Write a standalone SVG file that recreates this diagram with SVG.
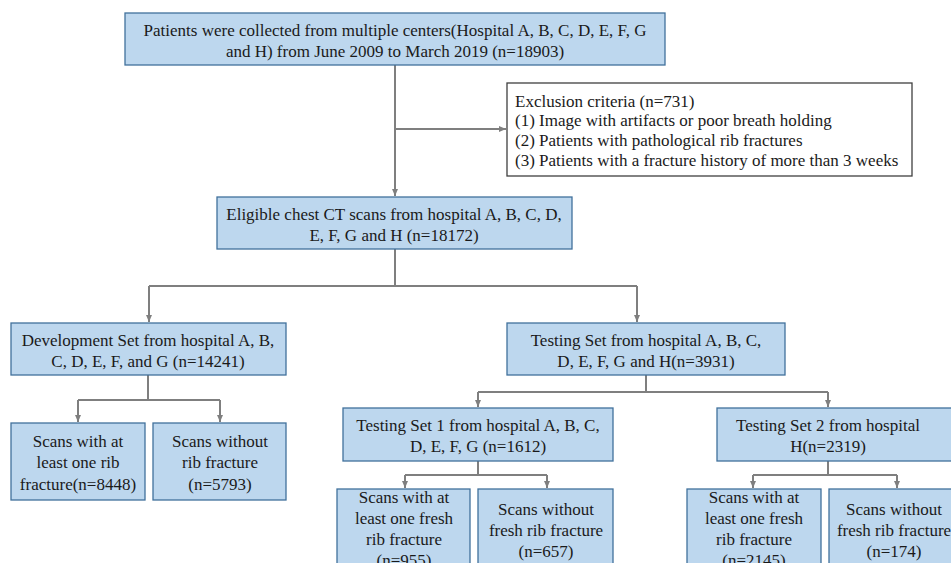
<svg xmlns="http://www.w3.org/2000/svg" width="951" height="563" viewBox="0 0 951 563" font-family="'Liberation Serif', 'Times New Roman', Times, serif" font-size="17">
<defs>
<marker id="ah" markerWidth="8" markerHeight="8" refX="7" refY="4" orient="auto" markerUnits="userSpaceOnUse">
<path d="M0,1 L7,4 L0,7 Z" fill="#7f7f7f"/>
</marker>
<style>
.box{fill:#bdd7ee;stroke:#41719c;stroke-width:1.3}
.wbox{fill:#ffffff;stroke:#3f3f3f;stroke-width:1.3}
text{font-family:'Liberation Serif','Times New Roman',Times,serif;font-size:17px;fill:#1a1a1a}
.c{text-anchor:middle}
.ln{fill:none;stroke:#7f7f7f;stroke-width:2}
.ar{marker-end:url(#ah)}
</style>
</defs>
<rect width="951" height="563" fill="#ffffff"/>
<g id="connectors">
<path class="ln ar" d="M395,65 V196"/>
<path class="ln ar" d="M395,129 H506"/>
<path class="ln" d="M395,249 V286 M149,286 H637"/>
<path class="ln ar" d="M149,286 V322"/>
<path class="ln ar" d="M637,286 V322"/>
<path class="ln" d="M148,375 V400 M78,400 H220"/>
<path class="ln ar" d="M78,400 V422"/>
<path class="ln ar" d="M220,400 V422"/>
<path class="ln" d="M646,375 V392 M478,392 H828"/>
<path class="ln ar" d="M478,392 V407"/>
<path class="ln ar" d="M828,392 V407"/>
<path class="ln" d="M478,461 V475 M405,475 H547"/>
<path class="ln ar" d="M405,475 V488"/>
<path class="ln ar" d="M547,475 V488"/>
<path class="ln" d="M828,461 V475 M753,475 H897"/>
<path class="ln ar" d="M753,475 V488"/>
<path class="ln ar" d="M897,475 V488"/>
</g>
<g id="n_top">
<rect class="box" x="125" y="13" width="540" height="52"/>
<text class="c" x="395" y="36">Patients were collected from multiple centers(Hospital A, B, C, D, E, F, G</text>
<text class="c" x="395" y="57">and H) from June 2009 to March 2019 (n=18903)</text>
</g>
<g id="n_excl">
<rect class="wbox" x="507" y="83" width="405" height="93"/>
<text x="515" y="107">Exclusion criteria (n=731)</text>
<text x="515" y="126">(1) Image with artifacts or poor breath holding</text>
<text x="515" y="146">(2) Patients with pathological rib fractures</text>
<text x="515" y="166">(3) Patients with a fracture history of more than 3 weeks</text>
</g>
<g id="n_elig">
<rect class="box" x="217" y="197" width="355" height="52"/>
<text class="c" x="394" y="220">Eligible chest CT scans from hospital A, B, C, D,</text>
<text class="c" x="394" y="241">E, F, G and H (n=18172)</text>
</g>
<g id="n_dev">
<rect class="box" x="11" y="323" width="275" height="52"/>
<text class="c" x="148" y="346">Development Set from hospital A, B,</text>
<text class="c" x="148" y="367">C, D, E, F, and G (n=14241)</text>
</g>
<g id="n_dev_pos">
<rect class="box" x="11" y="423" width="134" height="77"/>
<text class="c" x="78" y="447">Scans with at</text>
<text class="c" x="78" y="468">least one rib</text>
<text class="c" x="78" y="490">fracture(n=8448)</text>
</g>
<g id="n_dev_neg">
<rect class="box" x="153" y="423" width="133" height="77"/>
<text class="c" x="220" y="447">Scans without</text>
<text class="c" x="220" y="468">rib fracture</text>
<text class="c" x="220" y="490">(n=5793)</text>
</g>
<g id="n_test">
<rect class="box" x="507" y="323" width="278" height="52"/>
<text class="c" x="646" y="346">Testing Set from hospital A, B, C,</text>
<text class="c" x="646" y="367">D, E, F, G and H(n=3931)</text>
</g>
<g id="n_ts1">
<rect class="box" x="343" y="408" width="270" height="53"/>
<text class="c" x="478" y="431">Testing Set 1 from hospital A, B, C,</text>
<text class="c" x="478" y="452">D, E, F, G (n=1612)</text>
</g>
<g id="n_ts2">
<rect class="box" x="717" y="408" width="240" height="53"/>
<text class="c" x="828" y="431">Testing Set 2 from hospital</text>
<text class="c" x="828" y="452">H(n=2319)</text>
</g>
<g id="n_ts1_pos">
<rect class="box" x="337" y="489" width="133" height="80"/>
<text class="c" x="404" y="503">Scans with at</text>
<text class="c" x="404" y="524">least one fresh</text>
<text class="c" x="404" y="545">rib fracture</text>
<text class="c" x="404" y="566">(n=955)</text>
</g>
<g id="n_ts1_neg">
<rect class="box" x="478" y="489" width="135" height="80"/>
<text class="c" x="546" y="515">Scans without</text>
<text class="c" x="546" y="536">fresh rib fracture</text>
<text class="c" x="546" y="557">(n=657)</text>
</g>
<g id="n_ts2_pos">
<rect class="box" x="687" y="489" width="134" height="80"/>
<text class="c" x="754" y="503">Scans with at</text>
<text class="c" x="754" y="524">least one fresh</text>
<text class="c" x="754" y="545">rib fracture</text>
<text class="c" x="754" y="566">(n=2145)</text>
</g>
<g id="n_ts2_neg">
<rect class="box" x="829" y="489" width="130" height="80"/>
<text class="c" x="894" y="515">Scans without</text>
<text class="c" x="894" y="536">fresh rib fracture</text>
<text class="c" x="894" y="557">(n=174)</text>
</g>
</svg>
